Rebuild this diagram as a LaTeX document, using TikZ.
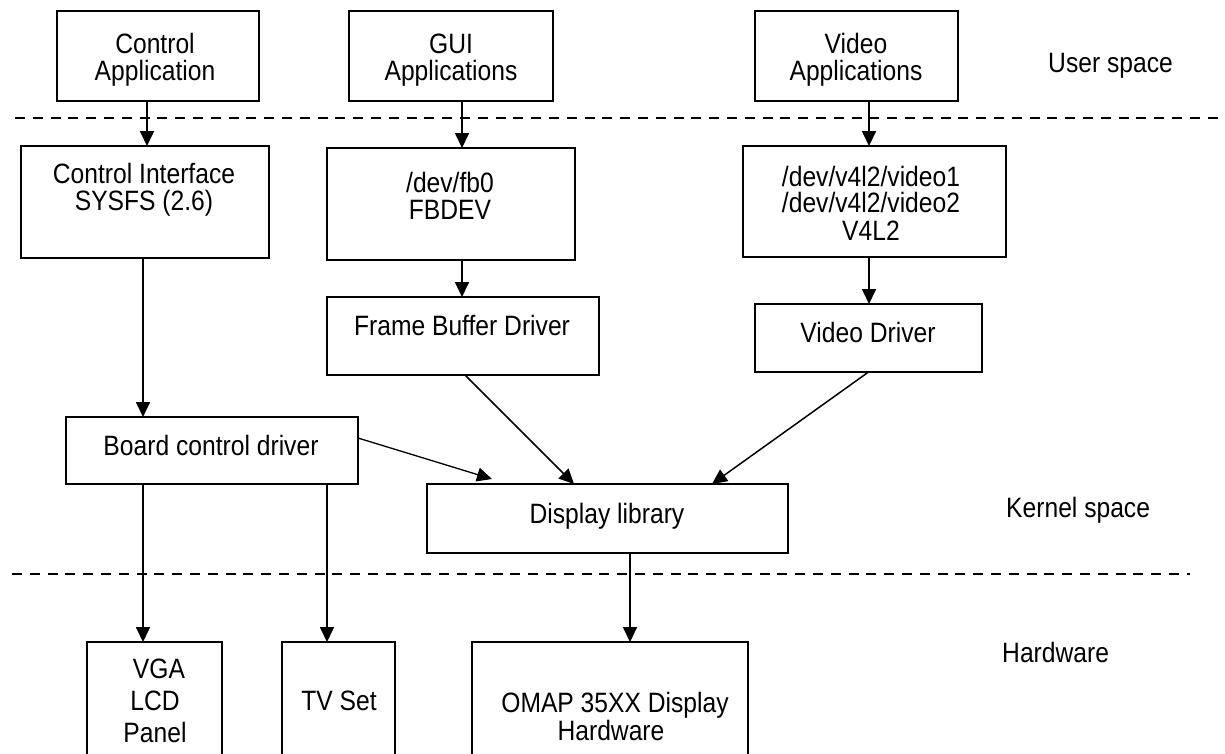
\documentclass[tikz,border=0pt]{standalone}
\usepackage{fontspec}
\setmainfont{Liberation Sans}[FakeStretch=0.88]
\usetikzlibrary{arrows.meta}
\begin{document}
\begin{tikzpicture}[x=1pt,y=-1pt,
  box/.style={draw, line width=1.8pt, inner sep=0pt, outer sep=0pt},
  txt/.style={anchor=base, inner sep=0pt, text height=20pt, text depth=2pt, font=\fontsize{28}{32}\selectfont},
  lbl/.style={anchor=base west, inner sep=0pt, font=\fontsize{28}{32}\selectfont},
  arr/.style={line width=1.7pt, -{Triangle[length=15pt,width=14pt]}},
  thinarr/.style={arr, line width=1.3pt},
  sep/.style={line width=1.6pt, dash pattern=on 10pt off 7.8pt}]
\path[use as bounding box] (0,0) rectangle (1225,753);
\clip (0,0) rectangle (1225,753);

% layer separators
\draw[sep] (15,118) -- (1218,118);
\draw[sep] (12,574) -- (1190,574);

% user space
\node[box, minimum width=202pt, minimum height=90pt] (capp) at (158,56) {};
\node[txt] (capp-1) at (155,53) {Control};
\node[txt] (capp-2) at (155,80) {Application};

\node[box, minimum width=204pt, minimum height=90pt] (gui) at (451,56) {};
\node[txt] (gui-1) at (451,53) {GUI};
\node[txt] (gui-2) at (451,80) {Applications};

\node[box, minimum width=203pt, minimum height=90pt] (vapp) at (856.5,56) {};
\node[txt] (vapp-1) at (856,53) {Video};
\node[txt] (vapp-2) at (856,80) {Applications};

\node[lbl] (user) at (1048,72) {User space};

% kernel space
\node[box, minimum width=248pt, minimum height=112pt] (ci) at (145,202) {};
\node[txt] (ci-1) at (144,183) {Control Interface};
\node[txt] (ci-2) at (144,210) {SYSFS (2.6)};

\node[box, minimum width=248pt, minimum height=112pt] (fbdev) at (451,204) {};
\node[txt] (fbdev-1) at (450,192) {/dev/fb0};
\node[txt] (fbdev-2) at (450,219) {FBDEV};

\node[box, minimum width=263pt, minimum height=111pt] (v4l2) at (874.5,201.5) {};
\node[txt] (v4l2-1) at (871,186) {/dev/v4l2/video1};
\node[txt] (v4l2-2) at (871,212) {/dev/v4l2/video2};
\node[txt] (v4l2-3) at (871,240) {V4L2};

\node[box, minimum width=272pt, minimum height=78pt] (fbd) at (463,336) {};
\node[txt] (fbd-1) at (462,335) {Frame Buffer Driver};

\node[box, minimum width=227pt, minimum height=68pt] (vd) at (868.5,338) {};
\node[txt] (vd-1) at (868,342) {Video Driver};

\node[box, minimum width=292pt, minimum height=67pt] (board) at (212,450.5) {};
\node[txt] (board-1) at (211,455) {Board control driver};

\node[box, minimum width=361pt, minimum height=69pt] (dl) at (607.5,518.5) {};
\node[txt] (dl-1) at (607,523) {Display library};

\node[lbl] (kernel) at (1006,517) {Kernel space};

% hardware
\node[box, minimum width=135pt, minimum height=128pt] (vga) at (154.5,706) {};
\node[txt] (vga-1) at (159,678) {VGA};
\node[txt] (vga-2) at (155,710) {LCD};
\node[txt] (vga-3) at (155,742) {Panel};

\node[box, minimum width=113pt, minimum height=128pt] (tv) at (338.5,706) {};
\node[txt] (tv-1) at (339,710) {TV Set};

\node[box, minimum width=276pt, minimum height=128pt] (omap) at (610,706) {};
\node[txt] (omap-1) at (615,712) {OMAP 35XX Display};
\node[txt] (omap-2) at (611,740) {Hardware};

\node[lbl] (hw) at (1002,662) {Hardware};

% connectors
\draw[arr] ([xshift=2pt]ci.north |- capp.south) -- ([xshift=2pt]ci.north);
\draw[arr] ([xshift=11pt]gui.south) -- ([xshift=11pt]fbdev.north);
\draw[arr] ([xshift=12.5pt]vapp.south) -- ([xshift=12.5pt]vapp.south |- v4l2.north);
\draw[arr] ([xshift=-2pt]ci.south) -- ([xshift=-2pt]ci.south |- board.north);
\draw[arr] ([xshift=11pt]fbdev.south) -- ([xshift=11pt]fbdev.south |- fbd.north);
\draw[arr] ([xshift=-5.5pt]v4l2.south) -- ([xshift=-5.5pt]v4l2.south |- vd.north);
\draw[arr] ([xshift=2pt]fbd.south) -- ([xshift=-33.5pt]dl.north);
\draw[thinarr, line width=1.5pt] (vd.south) -- ([xshift=104.5pt]dl.north);
\draw[thinarr] ([yshift=12.5pt]board.east) -- ([xshift=-115.5pt,yshift=5pt]dl.north);
\draw[arr] ([xshift=-69pt]board.south) -- ([xshift=-69pt]board.south |- vga.north);
\draw[arr] ([xshift=115pt]board.south) -- ([xshift=115pt]board.south |- tv.north);
\draw[arr] ([xshift=22.5pt]dl.south) -- ([xshift=22.5pt]dl.south |- omap.north);
\end{tikzpicture}
\end{document}
